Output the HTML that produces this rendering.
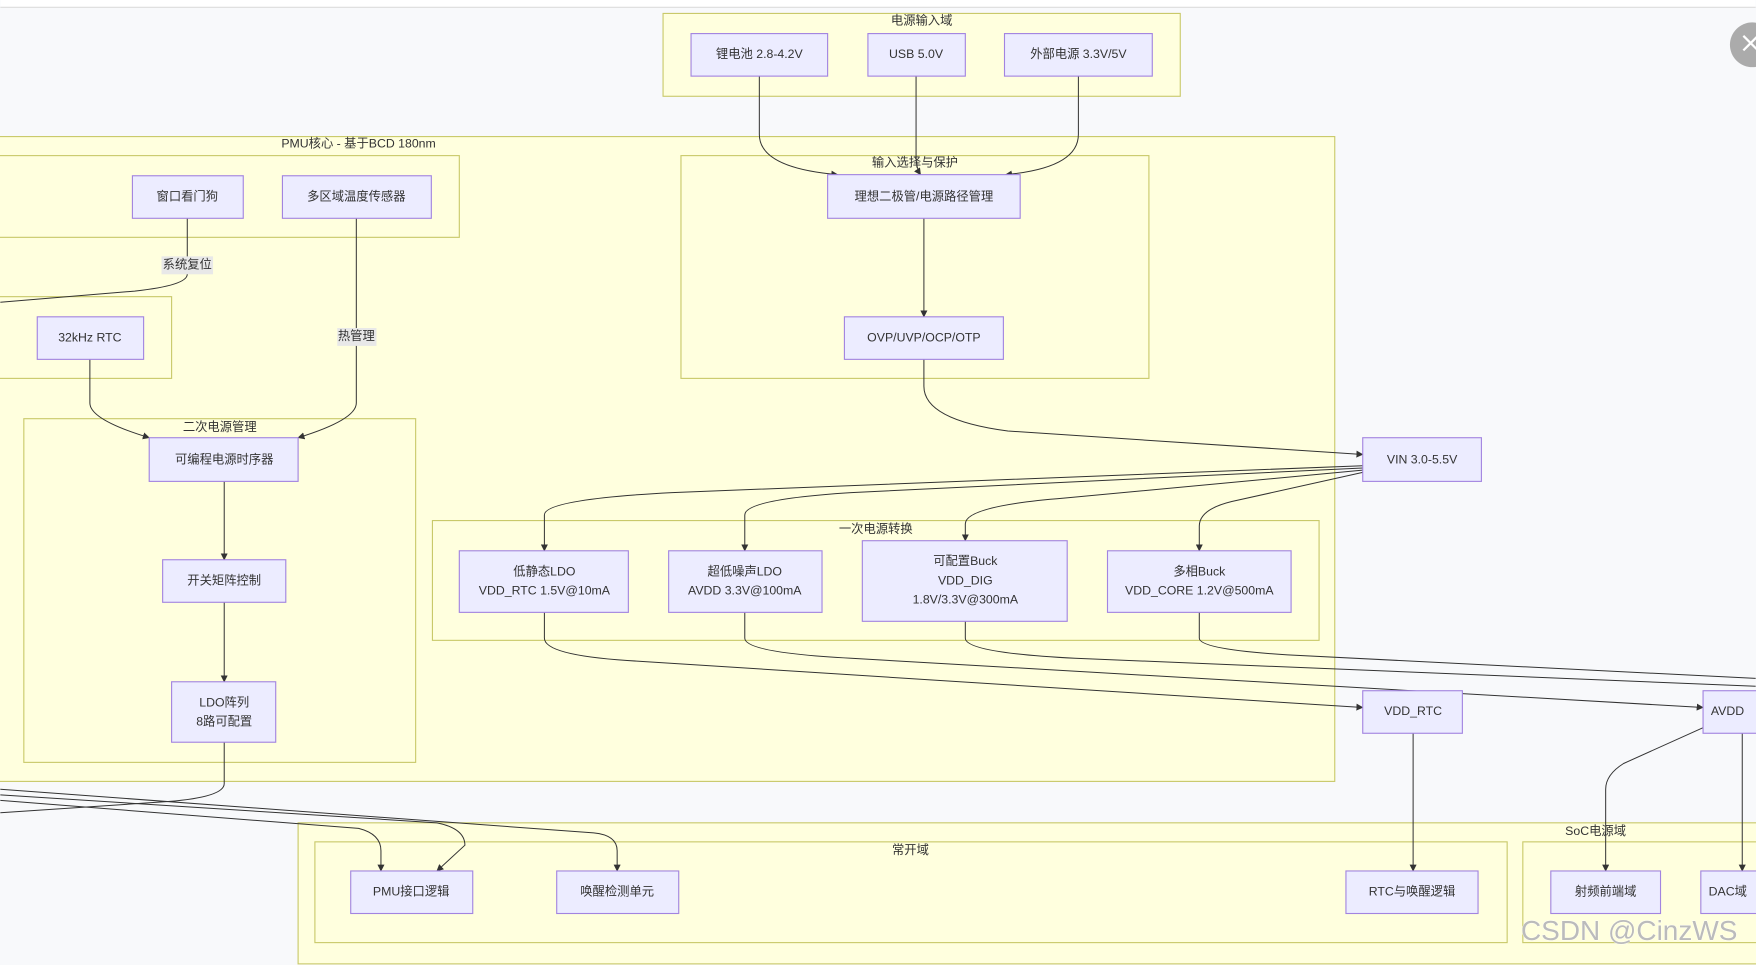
<!DOCTYPE html>
<html><head><meta charset="utf-8"><style>
html,body{margin:0;padding:0;width:1756px;height:965px;overflow:hidden;background:#f8f9fb;}
svg{display:block}
text{font-family:"Liberation Sans","Noto Sans CJK SC",sans-serif;font-size:11px;fill:#333;text-anchor:middle;dominant-baseline:middle}
.c{fill:#ffffde;stroke:#c9c96a;stroke-width:1}
.n{fill:#ececff;stroke:#a284e0;stroke-width:1}
.e{fill:none;stroke:#333;stroke-width:0.9;marker-end:url(#a)}
.e2{fill:none;stroke:#333;stroke-width:0.9}
</style></head><body>
<svg width="1756" height="965" viewBox="0 0 1568 862" xmlns="http://www.w3.org/2000/svg">
<defs><marker id="a" viewBox="0 0 10 10" refX="9" refY="5" markerWidth="7" markerHeight="7" orient="auto"><path d="M0,0L10,5L0,10z" fill="#333"/></marker></defs>
<rect x="0" y="0" width="1568" height="6" fill="#fff"/>
<line x1="0" y1="6.5" x2="1568" y2="6.5" stroke="#ddd"/>
<circle cx="1565" cy="40" r="20" fill="#ababab"/>
<path d="M1557,32L1570,45M1570,32L1557,45" stroke="#fff" stroke-width="2"/>

<!-- clusters -->
<rect class="c" x="592" y="12" width="462" height="74"/><text x="823" y="19">电源输入域</text>
<rect class="c" x="-2" y="122" width="1194" height="576"/><text x="320" y="129">PMU核心 - 基于BCD 180nm</text>
<rect class="c" x="-2" y="139" width="412" height="73"/>
<rect class="c" x="-2" y="265" width="155" height="73"/>
<rect class="c" x="21" y="374" width="350" height="307"/><text x="196" y="382">二次电源管理</text>
<rect class="c" x="608" y="139" width="418" height="199"/><text x="817" y="146">输入选择与保护</text>
<rect class="c" x="386" y="465" width="792" height="107"/><text x="782" y="473">一次电源转换</text>
<rect class="c" x="266" y="735" width="1310" height="126"/><text x="1425" y="743">SoC电源域</text>
<rect class="c" x="281" y="752" width="1065" height="90"/><text x="813" y="760">常开域</text>
<rect class="c" x="1360" y="752" width="220" height="90"/>

<!-- edges -->
<path class="e" d="M678,68 V120 Q678,150 748,156"/>
<path class="e" d="M818,68 V140 Q818,150 822,156"/>
<path class="e" d="M963,68 V120 Q963,150 898,156"/>
<path class="e" d="M825,195 V283"/>
<path class="e" d="M825,321 V345 Q825,375 900,385 L1217,406"/>
<path class="e" d="M1217,416 L600,440 Q486,446 486,460 V492"/>
<path class="e" d="M1217,418 L760,440 Q665,446 665,460 V492"/>
<path class="e" d="M1217,420 L950,445 Q862,452 862,468 V483"/>
<path class="e" d="M1217,422 L1100,448 Q1071,455 1071,470 V492"/>
<path class="e" d="M486,547 V570 Q486,585 560,590 L1217,632"/>
<path class="e" d="M665,547 V570 Q665,583 760,588 L1521,632"/>
<path class="e2" d="M862,555 V570 Q862,583 960,588 L1568,613"/>
<path class="e2" d="M1071,547 V570 Q1071,580 1150,585 L1568,606"/>
<path class="e" d="M1262,655 V778"/>
<path class="e" d="M1521,650 L1450,682 Q1434,692 1434,705 V778"/>
<path class="e" d="M1556,655 V778"/>
<path class="e2" d="M167,195 V245 Q167,255 120,260 L0,270"/>
<path class="e" d="M318,195 V360 Q318,375 266,391"/>
<path class="e" d="M80,321 V360 Q80,375 133,391"/>
<path class="e" d="M200,430 V500"/>
<path class="e" d="M200,538 V609"/>
<path class="e2" d="M200,663 V700 Q200,712 150,716 L0,726"/>
<path class="e" d="M0,715 L320,740 Q340,745 340,760 V778"/>
<path class="e" d="M0,710 L390,735 Q415,740 415,755 L390,778"/>
<path class="e" d="M0,705 L530,744 Q551,746 551,760 V778"/>

<!-- edge labels -->
<rect x="144" y="229" width="46" height="16" fill="#e8e8e8"/><text x="167" y="237">系统复位</text>
<rect x="301" y="293" width="35" height="16" fill="#e8e8e8"/><text x="318" y="301">热管理</text>

<!-- nodes -->
<rect class="n" x="617" y="30" width="122" height="38"/><text x="678" y="49">锂电池 2.8-4.2V</text>
<rect class="n" x="775" y="30" width="87" height="38"/><text x="818" y="49">USB 5.0V</text>
<rect class="n" x="897" y="30" width="132" height="38"/><text x="963" y="49">外部电源 3.3V/5V</text>
<rect class="n" x="118" y="157" width="99" height="38"/><text x="167" y="176">窗口看门狗</text>
<rect class="n" x="252" y="157" width="133" height="38"/><text x="318" y="176">多区域温度传感器</text>
<rect class="n" x="33" y="283" width="95" height="38"/><text x="80" y="302">32kHz RTC</text>
<rect class="n" x="133" y="391" width="133" height="39"/><text x="200" y="411">可编程电源时序器</text>
<rect class="n" x="145" y="500" width="110" height="38"/><text x="200" y="519">开关矩阵控制</text>
<rect class="n" x="153" y="609" width="93" height="54"/><text x="200" y="628">LDO阵列</text><text x="200" y="645">8路可配置</text>
<rect class="n" x="739" y="156" width="172" height="39"/><text x="825" y="176">理想二极管/电源路径管理</text>
<rect class="n" x="754" y="283" width="142" height="38"/><text x="825" y="302">OVP/UVP/OCP/OTP</text>
<rect class="n" x="410" y="492" width="151" height="55"/><text x="486" y="511">低静态LDO</text><text x="486" y="528">VDD_RTC 1.5V@10mA</text>
<rect class="n" x="597" y="492" width="137" height="55"/><text x="665" y="511">超低噪声LDO</text><text x="665" y="528">AVDD 3.3V@100mA</text>
<rect class="n" x="770" y="483" width="183" height="72"/><text x="862" y="502">可配置Buck</text><text x="862" y="519">VDD_DIG</text><text x="862" y="536">1.8V/3.3V@300mA</text>
<rect class="n" x="989" y="492" width="164" height="55"/><text x="1071" y="511">多相Buck</text><text x="1071" y="528">VDD_CORE 1.2V@500mA</text>
<rect class="n" x="1217" y="391" width="106" height="39"/><text x="1270" y="411">VIN 3.0-5.5V</text>
<rect class="n" x="1217" y="617" width="89" height="38"/><text x="1262" y="636">VDD_RTC</text>
<rect class="n" x="1521" y="617" width="70" height="38"/><text x="1528" y="636" style="text-anchor:start">AVDD</text>
<rect class="n" x="313" y="778" width="109" height="38"/><text x="367" y="797">PMU接口逻辑</text>
<rect class="n" x="497" y="778" width="109" height="38"/><text x="551" y="797">唤醒检测单元</text>
<rect class="n" x="1202" y="778" width="118" height="38"/><text x="1261" y="797">RTC与唤醒逻辑</text>
<rect class="n" x="1385" y="778" width="98" height="38"/><text x="1434" y="797">射频前端域</text>
<rect class="n" x="1519" y="778" width="70" height="38"/><text x="1526" y="797" style="text-anchor:start">DAC域</text>

<text x="1455" y="833" style="font-size:25px;fill:#bbb;stroke:#fff;stroke-width:0.6;paint-order:stroke">CSDN @CinzWS</text>
</svg>
</body></html>
